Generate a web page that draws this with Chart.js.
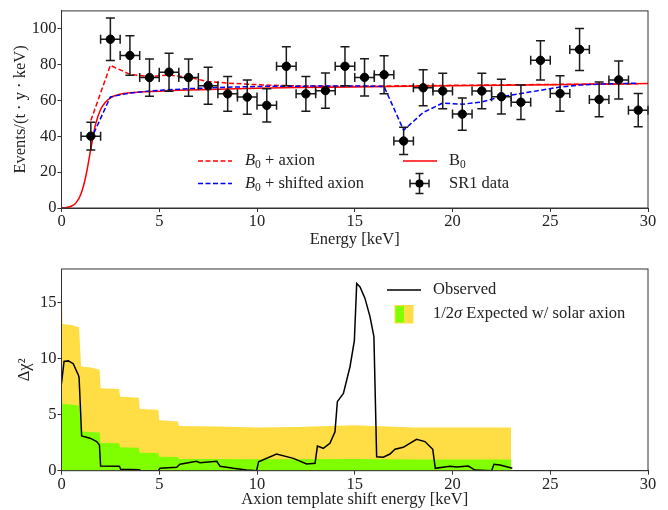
<!DOCTYPE html>
<html>
<head>
<meta charset="utf-8">
<script src="https://cdn.jsdelivr.net/npm/chart.js@4.4.1/dist/chart.umd.min.js"></script>
<style>
  html, body { margin: 0; padding: 0; background: #fff; }
  .panel { position: absolute; left: 0; width: 668px; height: 255px; }
  #top { top: 0; }
  #bottom { top: 255px; }
</style>
</head>
<body>
<div class="panel" id="top"><canvas id="spectrum"></canvas></div>
<div class="panel" id="bottom"><canvas id="shift"></canvas></div>
<script>
// ---- top panel: SR1 spectrum (1 keV bins) ----
const binCenters = [1.5, 2.5, 3.5, 4.5, 5.5, 6.5, 7.5, 8.5, 9.5, 10.5, 11.5, 12.5, 13.5, 14.5, 15.5,
    16.5, 17.5, 18.5, 19.5, 20.5, 21.5, 22.5, 23.5, 24.5, 25.5, 26.5, 27.5, 28.5, 29.5]
const binHalfWidth = 0.5
const sr1Rate = [40.1, 94.2, 85.1, 72.8, 75.8, 72.8, 68.2, 63.7, 61.9, 57.3, 79.1, 63.7, 65.5, 79.1, 72.9,
    74.4, 37.4, 67.1, 65.3, 52.4, 65.3, 62.1, 59.0, 82.4, 63.9, 88.5, 60.6, 71.5, 54.6]
const sr1Err = [7.7, 11.9, 11.0, 10.4, 10.6, 10.4, 10.3, 9.7, 9.6, 9.3, 10.9, 9.7, 9.9, 10.9, 10.4,
    10.6, 7.6, 10.0, 9.9, 9.0, 9.9, 9.7, 9.6, 11.0, 9.9, 11.7, 9.7, 10.6, 9.3]
const axionRate = [48.8, 79.6, 74.6, 73.3, 74.2, 72.9, 70.6, 69.7, 69.1, 68.6, 68.3, 68.1, 68.0, 68.0, 68.0,
    68.1, 68.2, 68.3, 68.4, 68.5, 68.6, 68.7, 68.8, 68.9, 69.0, 69.1, 69.2, 69.3, 69.4]
const shiftedRate = [38.0, 62.0, 64.2, 65.3, 66.0, 66.6, 67.0, 67.4, 67.7, 67.9, 68.0, 68.0, 68.1, 68.1, 68.1,
    67.8, 43.4, 53.3, 58.6, 57.9, 59.2, 62.1, 63.9, 65.7, 67.5, 68.6, 69.1, 69.5, 69.6]
const b0Energy = [0, 0.25, 0.5, 0.75, 1.0, 1.25, 1.5, 1.75, 2.0, 2.25, 2.5, 3.0, 3.5, 4, 5, 6, 8, 10, 12, 15, 20, 25, 30]
const b0Rate = [0, 0.3, 1.0, 3.0, 8.0, 18.0, 33.0, 47.0, 55.0, 59.0, 61.5, 63.5, 64.3, 64.8, 65.2, 65.7,
    66.3, 66.8, 67.2, 67.5, 68.2, 68.8, 69.5]
const energyTicks = [0, 5, 10, 15, 20, 25, 30]
const rateTicks = [0, 20, 40, 60, 80, 100]

// ---- bottom panel: delta chi2 vs template shift ----
const shiftEnergy = [0, 0.13, 0.35, 0.6, 0.86, 0.9, 1.03, 1.46, 1.8, 1.94, 2.0, 2.96, 3.03, 3.98, 4.05, 4.95,
    5.04, 5.89, 6.06, 6.91, 7.08, 7.94, 8.11, 8.79, 9.47, 9.98, 10.08, 11.0, 11.86, 12.54, 12.97, 13.09,
    13.39, 13.73, 13.99, 14.11, 14.42, 14.76, 14.98, 15.1, 15.27, 15.52, 15.78, 15.98, 16.12, 16.46, 16.8,
    17.06, 17.48, 18.16, 18.59, 18.99, 19.12, 19.87, 20.21, 20.81, 21.15, 22.0, 22.12, 22.43, 23.06]
const observedChi2 = [7.8, 9.75, 9.8, 9.55, 8.55, 8.3, 3.1, 2.9, 2.6, 2.3, 0.42, 0.4, 0.12, 0.08, 0.0, 0.0,
    0.21, 0.3, 0.57, 0.84, 0.72, 0.84, 0.4, 0.21, 0.06, 0.0, 0.8, 1.49, 1.1, 0.6, 0.66, 2.2,
    2.0, 2.45, 3.48, 6.16, 6.9, 9.3, 11.6, 16.7, 16.4, 15.4, 13.75, 11.96, 1.25, 1.2, 1.49,
    1.91, 2.09, 2.8, 2.6, 1.91, 0.21, 0.4, 0.34, 0.42, 0.06, 0.0, 0.57, 0.5, 0.21]
const bandEnergy = [0, 0.05, 0.5, 0.9, 1.0, 1.5, 1.95, 2.0, 2.95, 3.0, 3.95, 4.0, 4.95, 5.0, 5.95, 6.0,
    8, 10, 12, 15, 18, 20, 23]
const band2Sigma = [18.0, 13.1, 13.0, 12.8, 9.3, 9.2, 9.0, 7.35, 7.3, 6.6, 6.5, 5.5, 5.45, 4.5, 4.4, 4.0,
    3.95, 3.85, 3.9, 4.05, 3.85, 3.85, 3.85]
const band1Sigma = [7.8, 5.95, 5.9, 5.8, 3.5, 3.45, 3.4, 2.5, 2.45, 2.09, 2.05, 1.6, 1.58, 1.25, 1.22, 1.04,
    1.04, 1.03, 1.03, 1.04, 1.0, 1.0, 1.0]
const chi2Ticks = [0, 5, 10, 15]

const serif = "'Liberation Serif', 'DejaVu Serif', serif"
const fontSize = 16.5
const textColor = '#222'
const axisColor = '#333'
const yellow = '#ffdd44'
const green = '#80ff00'

const pts = (xs, ys) => xs.map((x, i) => ({ x: x, y: ys[i] }))

// draw "B", subscript "0" etc. piece by piece
function richText(ctx, x, y, parts) {
    let cx = x
    ctx.textBaseline = 'middle'
    ctx.textAlign = 'left'
    ctx.fillStyle = textColor
    parts.forEach(([t, s]) => {
        const small = s === 'sub' || s === 'sup'
        ctx.font = (s === 'i' ? 'italic ' : '') + (small ? 11.5 : fontSize) + 'px ' + serif
        const dy = s === 'sub' ? 4 : s === 'sup' ? -6 : 0
        ctx.fillText(t, cx, y + dy)
        cx += ctx.measureText(t).width
    })
}

function errorGlyph(ctx, cx, cy, x0, x1, y0, y1, cap) {
    ctx.beginPath()
    ctx.moveTo(x0, cy); ctx.lineTo(x1, cy)
    ctx.moveTo(cx, y0); ctx.lineTo(cx, y1)
    ctx.moveTo(x0, cy - cap); ctx.lineTo(x0, cy + cap)
    ctx.moveTo(x1, cy - cap); ctx.lineTo(x1, cy + cap)
    ctx.moveTo(cx - cap, y0); ctx.lineTo(cx + cap, y0)
    ctx.moveTo(cx - cap, y1); ctx.lineTo(cx + cap, y1)
    ctx.stroke()
}

const frame = {
    id: 'frame',
    afterDraw(chart) {
        const { ctx, chartArea: a } = chart
        ctx.save()
        ctx.strokeStyle = axisColor
        ctx.lineWidth = 1
        ctx.strokeRect(a.left, a.top, a.right - a.left, a.bottom - a.top)
        ctx.restore()
    }
}

const errorBars = {
    id: 'errorBars',
    beforeDatasetDraw(chart, args) {
        if (args.index !== 0) return
        const { ctx, scales: { x, y } } = chart
        ctx.save()
        ctx.strokeStyle = '#1a1a1a'
        ctx.lineWidth = 1.5
        binCenters.forEach((e, i) => {
            errorGlyph(ctx,
                x.getPixelForValue(e), y.getPixelForValue(sr1Rate[i]),
                x.getPixelForValue(e - binHalfWidth), x.getPixelForValue(e + binHalfWidth),
                y.getPixelForValue(sr1Rate[i] - sr1Err[i]), y.getPixelForValue(sr1Rate[i] + sr1Err[i]), 4.5)
        })
        ctx.restore()
    }
}

const spectrumLegend = {
    id: 'spectrumLegend',
    afterDraw(chart) {
        const ctx = chart.ctx
        ctx.save()
        ctx.lineWidth = 1.5
        ctx.setLineDash([5, 2.5])
        ctx.strokeStyle = '#ff0000'
        ctx.beginPath(); ctx.moveTo(198, 161); ctx.lineTo(232, 161); ctx.stroke()
        ctx.strokeStyle = '#0000ff'
        ctx.beginPath(); ctx.moveTo(198, 183.5); ctx.lineTo(232, 183.5); ctx.stroke()
        ctx.setLineDash([])
        ctx.strokeStyle = '#ff0000'
        ctx.beginPath(); ctx.moveTo(403, 161); ctx.lineTo(437, 161); ctx.stroke()
        ctx.strokeStyle = '#1a1a1a'
        errorGlyph(ctx, 419.5, 183.5, 410, 429, 173.5, 193.5, 4)
        ctx.fillStyle = '#000'
        ctx.beginPath(); ctx.arc(419.5, 183.5, 4, 0, Math.PI * 2); ctx.fill()
        richText(ctx, 245, 161, [['B', 'i'], ['0', 'sub'], [' + axion', '']])
        richText(ctx, 245, 183.5, [['B', 'i'], ['0', 'sub'], [' + shifted axion', '']])
        richText(ctx, 449, 161, [['B', ''], ['0', 'sub']])
        richText(ctx, 449, 183.5, [['SR1 data', '']])
        ctx.restore()
    }
}

const shiftLegend = {
    id: 'shiftLegend',
    afterDraw(chart) {
        const ctx = chart.ctx
        ctx.save()
        ctx.lineWidth = 1.5
        ctx.strokeStyle = '#000'
        ctx.beginPath(); ctx.moveTo(387, 35); ctx.lineTo(421, 35); ctx.stroke()
        ctx.fillStyle = yellow
        ctx.fillRect(394.5, 50, 19, 18.5)
        ctx.fillStyle = green
        ctx.fillRect(395.5, 51, 8.5, 16.5)
        richText(ctx, 433, 35, [['Observed', '']])
        richText(ctx, 433, 59, [['1/2', ''], ['σ', 'i'], [' Expected w/ solar axion', '']])
        ctx.restore()
    }
}

const tickFont = { family: serif, size: fontSize }

function xScale(height, titleText, titlePad) {
    return {
        type: 'linear', min: 0, max: 30,
        afterBuildTicks: s => { s.ticks = energyTicks.map(v => ({ value: v })) },
        afterFit: s => { s.height = height },
        ticks: { font: tickFont, color: textColor, padding: 0, maxRotation: 0 },
        grid: { drawOnChartArea: false, tickLength: 4, color: axisColor },
        border: { color: axisColor },
        title: { display: true, text: titleText, font: tickFont, color: textColor, padding: { top: 0, bottom: titlePad } }
    }
}

function yScale(max, tickValues, titleText, titlePad) {
    return {
        type: 'linear', min: 0, max: max,
        afterBuildTicks: s => { s.ticks = tickValues.map(v => ({ value: v })) },
        afterFit: s => { s.width = 61.5 },
        ticks: { font: tickFont, color: textColor, padding: 1 },
        grid: { drawOnChartArea: false, tickLength: 4, color: axisColor },
        border: { color: axisColor },
        title: { display: true, text: titleText, font: tickFont, color: textColor, padding: { top: titlePad, bottom: 0 } }
    }
}

const baseOptions = {
    responsive: true,
    maintainAspectRatio: false,
    animation: false,
    events: [],
    plugins: { legend: { display: false }, tooltip: { enabled: false } }
}

new Chart('spectrum', {
    type: 'scatter',
    data: {
        datasets: [{
            label: 'SR1 data',
            data: pts(binCenters, sr1Rate),
            backgroundColor: '#000', borderColor: '#000',
            pointRadius: 4.2, showLine: false
        }, {
            label: 'B0 + shifted axion',
            data: pts(binCenters, shiftedRate),
            showLine: true, borderColor: '#0000ff', borderWidth: 1.5, borderDash: [5, 2.5],
            pointRadius: 0, tension: 0
        }, {
            label: 'B0 + axion',
            data: pts(binCenters, axionRate),
            showLine: true, borderColor: '#ff0000', borderWidth: 1.5, borderDash: [5, 2.5],
            pointRadius: 0, tension: 0
        }, {
            label: 'B0',
            data: pts(b0Energy, b0Rate),
            showLine: true, borderColor: '#ff0000', borderWidth: 1.5,
            pointRadius: 0, cubicInterpolationMode: 'monotone'
        }]
    },
    options: Object.assign({}, baseOptions, {
        layout: { padding: { left: 0, right: 20, top: 6, bottom: 0 } },
        scales: {
            x: xScale(47, 'Energy [keV]', 5),
            y: yScale(110, rateTicks, 'Events/(t · y · keV)', 11)
        }
    }),
    plugins: [frame, errorBars, spectrumLegend]
})

new Chart('shift', {
    type: 'scatter',
    data: {
        datasets: [{
            label: 'Observed',
            data: pts(shiftEnergy, observedChi2),
            showLine: true, borderColor: '#000', borderWidth: 1.5,
            pointRadius: 0, tension: 0
        }, {
            label: '1 sigma',
            data: pts(bandEnergy, band1Sigma),
            showLine: true, borderWidth: 0, borderColor: green, backgroundColor: green,
            fill: 'origin', pointRadius: 0, tension: 0
        }, {
            label: '2 sigma',
            data: pts(bandEnergy, band2Sigma),
            showLine: true, borderWidth: 0, borderColor: yellow, backgroundColor: yellow,
            fill: 'origin', pointRadius: 0, tension: 0
        }]
    },
    options: Object.assign({}, baseOptions, {
        layout: { padding: { left: 0, right: 20, top: 14, bottom: 0 } },
        scales: {
            x: xScale(39.3, 'Axion template shift energy [keV]', 0),
            y: yScale(18, chi2Ticks, 'Δχ²', 15)
        }
    }),
    plugins: [frame, shiftLegend]
})
</script>
</body>
</html>
